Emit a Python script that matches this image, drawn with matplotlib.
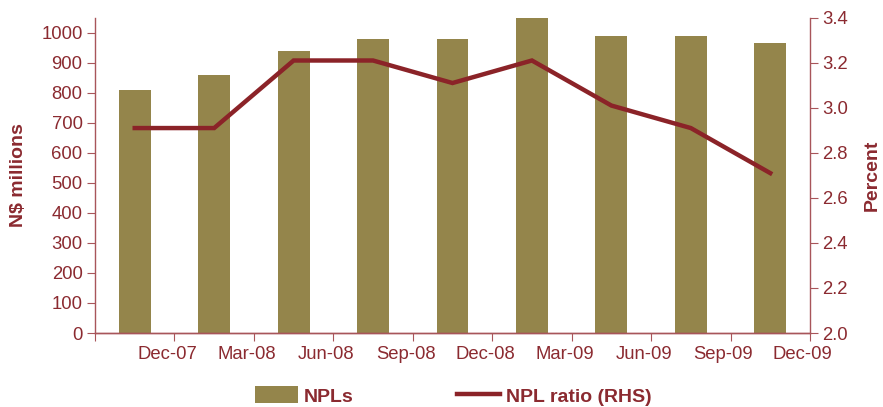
import numpy as np
import matplotlib
matplotlib.use("Agg")
import matplotlib.pyplot as plt
from matplotlib.patches import Patch
from matplotlib.lines import Line2D

plt.rcParams['font.family'] = ['Liberation Sans', 'DejaVu Sans']

quarters = ['Dec-07', 'Mar-08', 'Jun-08', 'Sep-08', 'Dec-08',
            'Mar-09', 'Jun-09', 'Sep-09', 'Dec-09']
npls = [810, 860, 940, 980, 980, 1048, 990, 990, 965]
npl_ratio = [2.91, 2.91, 3.21, 3.21, 3.11, 3.21, 3.01, 2.91, 2.71]

BAR = '#94854B'
LINE = '#8B2328'
TEXT = '#8B2A30'
SPINE = '#A8555A'

fig = plt.figure(figsize=(8.83, 4.07), dpi=100)
ax = fig.add_axes([0.1076, 0.1818, 0.8097, 0.7747])
ax2 = ax.twinx()

x = np.arange(len(npls)) + 0.5
ax.bar(x, npls, width=0.4, color=BAR, zorder=2)
ax2.plot(x, npl_ratio, color=LINE, lw=3.2, solid_capstyle='projecting',
         solid_joinstyle='miter', zorder=3)

ax.set_xlim(0, len(npls))
ax.set_ylim(0, 1050)
ax.set_yticks(range(0, 1001, 100))
ax2.set_ylim(2.0, 3.4)
ax2.set_yticks(np.arange(2.0, 3.41, 0.2))
ax2.set_yticklabels([f'{v:.1f}' for v in np.arange(2.0, 3.41, 0.2)])

# tick marks sit on the category boundaries, labels just left of them
ax.set_xticks(np.arange(0, len(npls) + 1))
ax.set_xticklabels([])
ax.set_xticks(np.arange(1, len(npls) + 1) - 0.09, minor=True)
ax.set_xticklabels(quarters, minor=True)

for a in (ax, ax2):
    for s in a.spines.values():
        s.set_color(SPINE)
        s.set_linewidth(1.0)
    a.spines['top'].set_visible(False)
    a.tick_params(which='both', labelsize=13.3, labelcolor=TEXT, color=SPINE)
ax.spines['right'].set_visible(False)
ax2.spines['left'].set_visible(False)
ax.tick_params(axis='x', which='minor', length=0, pad=9)
ax.tick_params(axis='x', which='major', length=6, direction='out')
ax.tick_params(axis='y', length=6, pad=3)
ax2.tick_params(axis='y', length=6, pad=3)

ax.set_ylabel('N$ millions', fontsize=14, fontweight='bold', color=TEXT,
              labelpad=10)
ax2.set_ylabel('Percent', fontsize=14, fontweight='bold', color=TEXT,
               labelpad=11)

handles = [Patch(facecolor=BAR, edgecolor='none'),
           Line2D([0], [0], color=LINE, lw=3.2)]
fig.legend(handles, ['NPLs', 'NPL ratio (RHS)'], loc='center',
           bbox_to_anchor=(0.513, 0.027), ncol=2, frameon=False,
           handlelength=2.25, handleheight=0.95, columnspacing=5.3,
           handletextpad=0.28,
           prop={'size': 14, 'weight': 'bold'}, labelcolor=TEXT)

fig.savefig('out.png', dpi=100)
